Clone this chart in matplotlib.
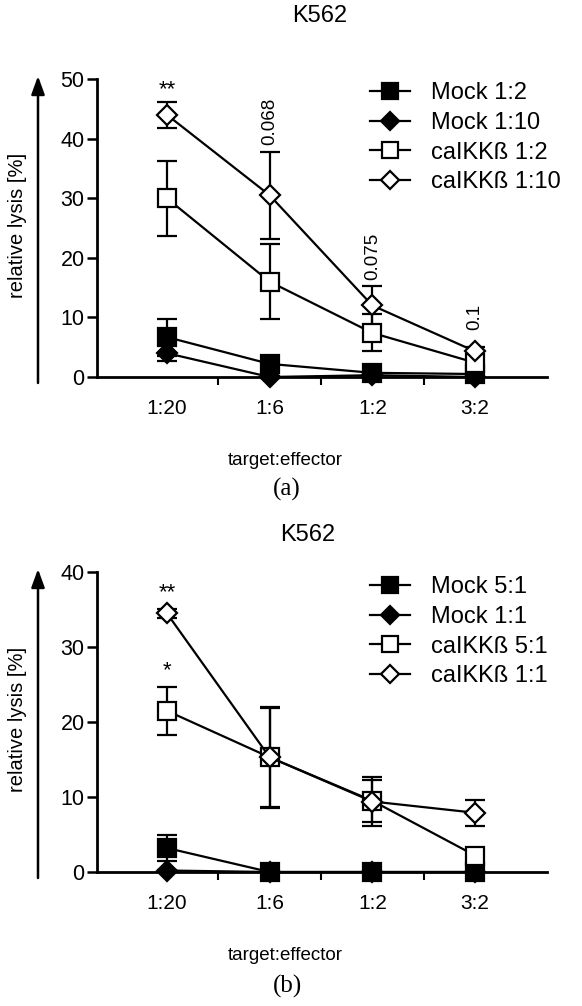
import matplotlib
matplotlib.use("Agg")
import matplotlib.pyplot as plt
import numpy as np

plt.rcParams['font.family'] = ['Liberation Sans', 'DejaVu Sans']

cats = ["1:20", "1:6", "1:2", "3:2"]

# panel (a)
labels_a = ["Mock 1:2", "Mock 1:10", "caIKKß 1:2", "caIKKß 1:10"]
mock_a1 = [6.7, 2.2, 0.7, 0.5]
mock_a1_err = [3.1, 0.4, 0.3, 0.2]
mock_a2 = [4.0, 0.0, 0.3, 0.0]
mock_a2_err = [1.3, 0.2, 0.2, 0.1]
cal_a1 = [30.0, 16.0, 7.4, 2.4]
cal_a1_err = [6.3, 6.3, 3.1, 1.0]
cal_a2 = [44.0, 30.5, 12.0, 4.3]
cal_a2_err = [2.2, 7.3, 3.3, 0.8]
annot_a = ["**", "0.068", "0.075", "0.1"]

# panel (b)
labels_b = ["Mock 5:1", "Mock 1:1", "caIKKß 5:1", "caIKKß 1:1"]
mock_b1 = [3.2, 0.0, 0.0, 0.0]
mock_b1_err = [1.7, 0.1, 0.1, 0.1]
mock_b2 = [0.2, 0.0, 0.0, 0.0]
mock_b2_err = [0.1, 0.1, 0.1, 0.1]
cal_b1 = [21.5, 15.3, 9.5, 2.2]
cal_b1_err = [3.2, 6.6, 2.8, 0.4]
cal_b2 = [34.5, 15.3, 9.4, 7.9]
cal_b2_err = [0.6, 6.7, 3.3, 1.7]

fig = plt.figure(figsize=(5.82, 10.06), dpi=100)
W, H = 582, 1006


def panel(y0, y1, ymax, step, series, labels, title, title_x, title_y, leg_y):
    ax = fig.add_axes([97 / W, 1 - y0 / H, 450 / W, (y0 - y1) / H])
    x = np.arange(len(cats))
    styles = [("s", "black"), ("D", "black"), ("s", "white"), ("D", "white")]
    handles = []
    for (vals, err), (m, fc) in zip(series, styles):
        ms = 12.5 if m == "s" else 10
        eb = ax.errorbar(x, vals, yerr=err, color="black", lw=1.6, marker=m,
                         ms=ms, mfc=fc, mec="black", mew=1.6, capsize=7,
                         capthick=1.6, elinewidth=1.6, clip_on=False, zorder=3)
        for art in eb.lines[1] + eb.lines[2]:
            art.set_clip_on(False)
        handles.append(eb.lines[0])
    ax.set_xlim(-0.68, 3.7)
    ax.set_ylim(0, ymax)
    ax.set_yticks(np.arange(0, ymax + 1, step))
    ax.set_xticks(x)
    ax.set_xticklabels(cats, fontsize=15)
    ax.tick_params(axis="x", length=0, pad=16)
    ax.set_xticks([0.5, 1.5, 2.5], minor=True)
    ax.tick_params(axis="x", which="minor", length=6, width=1.5, direction="out")
    ax.tick_params(axis="y", labelsize=15.5, length=7, width=1.8, pad=2)
    for s in ["top", "right"]:
        ax.spines[s].set_visible(False)
    for s in ["left", "bottom"]:
        ax.spines[s].set_linewidth(2)
    ax.set_facecolor("none")
    fig.legend(handles, labels, loc="upper left",
               bbox_to_anchor=(370 / W, 1 - leg_y / H), frameon=False,
               fontsize=17, handlelength=1.7, handletextpad=0.9,
               labelspacing=0.33, borderaxespad=0, borderpad=0,
               markerscale=0.9)
    # arrow and y label
    ax.annotate("", xy=(38 / W, 1.01), xytext=(38 / W, -0.02),
                xycoords=("figure fraction", "axes fraction"),
                textcoords=("figure fraction", "axes fraction"),
                arrowprops=dict(arrowstyle="-|>,head_width=0.4,head_length=1.1",
                                color="black", lw=1.8, shrinkA=0, shrinkB=0),
                annotation_clip=False)
    fig.text(18 / W, 1 - ((y0 + y1) / 2 - 3) / H, "relative lysis [%]",
             rotation=90, ha="center", va="center", fontsize=14.5)
    fig.text(title_x / W, 1 - title_y / H, title, ha="center", va="center",
             fontsize=17)
    return ax


ax1 = panel(377, 79, 50, 10,
            [(mock_a1, mock_a1_err), (mock_a2, mock_a2_err),
             (cal_a1, cal_a1_err), (cal_a2, cal_a2_err)],
            labels_a, "K562", 320, 16, 82)
tops = np.array(cal_a2) + np.array(cal_a2_err)
ax1.text(0, tops[0] + 0.3, annot_a[0], ha="center", va="bottom", fontsize=16)
gaps = [0, 1.1, 1.0, 2.8]
for i in range(1, 4):
    ax1.text(i, tops[i] + gaps[i], annot_a[i], ha="center", va="bottom",
             fontsize=13.5, rotation=90)
fig.text(285 / W, 1 - 460 / H, "target:effector", ha="center", va="center",
         fontsize=13.5)
fig.text(287 / W, 1 - 489 / H, "(a)", ha="center", va="center", fontsize=18,
         family="Liberation Serif")

ax2 = panel(872, 572, 40, 10,
            [(mock_b1, mock_b1_err), (mock_b2, mock_b2_err),
             (cal_b1, cal_b1_err), (cal_b2, cal_b2_err)],
            labels_b, "K562", 308, 535, 576)
ax2.text(0, cal_b2[0] + cal_b2_err[0] + 0.8, "**", ha="center", va="bottom",
         fontsize=16)
ax2.text(0, cal_b1[0] + cal_b1_err[0] + 0.8, "*", ha="center", va="bottom",
         fontsize=16)
fig.text(285 / W, 1 - 955 / H, "target:effector", ha="center", va="center",
         fontsize=13.5)
fig.text(287 / W, 1 - 986 / H, "(b)", ha="center", va="center", fontsize=18,
         family="Liberation Serif")

fig.savefig("out.png", dpi=100)
